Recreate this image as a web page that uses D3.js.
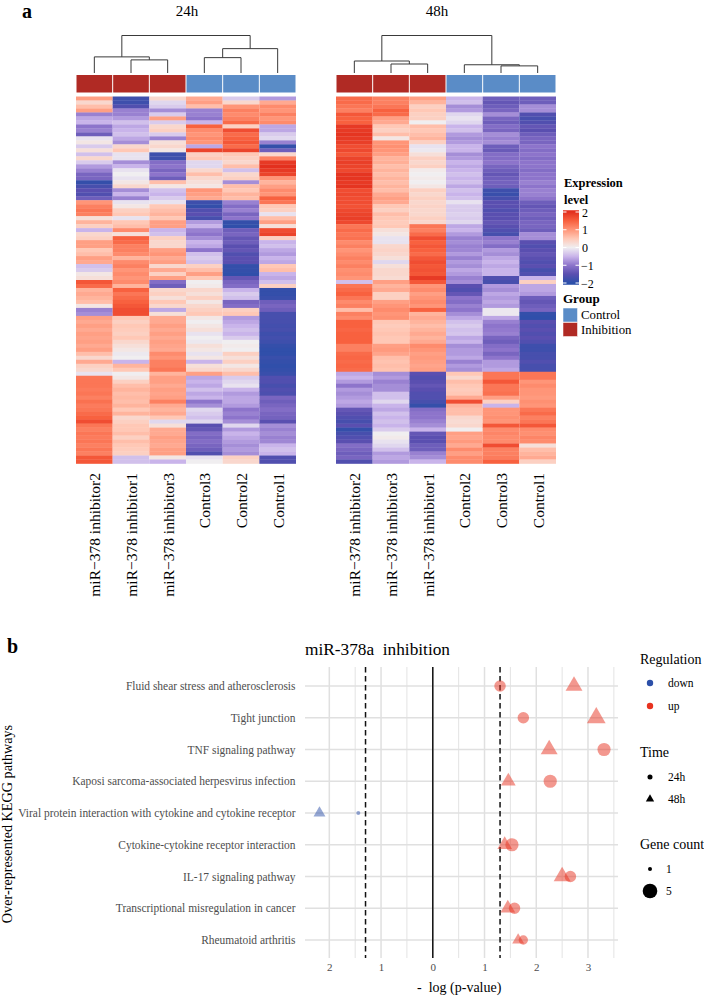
<!DOCTYPE html>
<html>
<head>
<meta charset="utf-8">
<script src="https://cdn.jsdelivr.net/npm/d3@7"></script>
<style>
body { margin: 0; background: #fff; }
text { font-family: "Liberation Serif", serif; }
</style>
</head>
<body>
<div id="chart"></div>
<script>
// heatmap columns, top row to bottom row, z-scores
const samples24 = ['miR\u2212378 inhibitor2', 'miR\u2212378 inhibitor1', 'miR\u2212378 inhibitor3', 'Control3', 'Control2', 'Control1'];
const samples48 = ['miR\u2212378 inhibitor2', 'miR\u2212378 inhibitor3', 'miR\u2212378 inhibitor1', 'Control2', 'Control3', 'Control1'];
const sampleGroups = ['Inhibition', 'Inhibition', 'Inhibition', 'Control', 'Control', 'Control'];

const h24inh2 = [
  .9,.3,.6,.9,-.9,-.6,-.5,-1,-.9,-1.3,
  -.1,.1,-.3,.2,-.4,.3,-.3,-.7,-.9,-1.2,
  -1.2,-1.9,-1.7,-1.5,-1.6,-1.3,1,1.2,1.3,1.2,
  .2,.7,.4,-.5,.3,.4,.9,.9,.5,.6,
  .9,.8,-.4,-.3,.1,.2,1.6,1.4,.7,.8,
  .7,.6,.1,-.9,-.8,.9,.8,.9,.8,.9,
  .85,.9,.8,.9,.6,.3,.8,.4,.3,-.1,
  1.3,1.3,1.3,1.25,1.3,1.2,1.35,1.25,1.3,1.4,
  1.5,1.7,1.3,1.2,1.3,1.25,1.3,1.2,1.3,1.2,1.6,1.6];
const h24inh1 = [
  -1.8,-1.8,-1.6,-.9,-.9,-.7,-.4,-.6,-.5,-.4,
  -.6,-.8,.3,.5,-.1,-.1,-.8,-.5,-.1,0,
  -.1,.1,.3,-.8,-.5,-.9,-.1,.1,.4,.5,
  -.1,.5,.6,1.1,.2,1.5,1.4,1.2,1.2,1.1,
  .7,1.1,1.2,1,1.1,1,1.1,.7,1.5,1.3,
  1.4,1.5,1.6,1.7,1.7,.5,.4,.5,.45,.4,
  .5,.3,.2,.1,-.05,0,-.5,.7,.5,0,
  .1,.4,.6,.7,.6,.65,.6,.7,.5,.7,
  .3,.4,.5,.5,.6,.4,.6,.5,.45,.4,-.4,-.4];
const h24inh3 = [
  .3,-.2,-.3,-.8,-.3,.9,-.3,.3,.4,-.3,
  -.9,.2,.3,.1,-1.8,-1.8,-1.1,-1,-1.2,-1,
  -1.3,.6,.1,-.4,-.5,-.3,-.1,.5,.6,.7,
  .5,.9,.9,-.5,-.4,.4,.3,.3,.9,1,
  .8,.9,.3,.8,.4,.9,-1.1,-1.3,.3,.4,
  .2,.5,.3,-.6,.2,.8,.8,.9,.8,.9,
  .8,.9,.85,.8,1.1,1,1.2,1.2,1.3,.7,
  .9,.9,.8,.9,.85,.9,1.2,.8,.7,.8,
  .5,-.2,.2,.8,.8,.9,.85,.8,.9,.9,.1,-.5];
const h24ctl3 = [
  .8,.9,.6,-.9,-.9,-1,-.5,1.5,1.1,1,
  1.1,1,-.6,1.8,.4,.5,-.2,-.2,.3,.6,
  .3,.2,.1,1,.9,.8,-1.8,-1.9,-1.6,-1.5,
  -1.7,-.7,-.5,-.9,-1,-.8,-.5,-.6,-1,-.4,
  -.3,-.4,.4,.6,.9,.5,0,.05,.3,.2,
  .4,.1,.3,.4,.5,.1,0,.1,.2,-.1,
  0,-.05,.2,.1,-.1,.1,-.5,.2,.3,.9,
  -.6,-.5,-.6,-.4,-.6,-.5,-1,-.8,-.2,-.3,
  -.4,-.2,-1.5,-1.4,-1.1,-1.2,-1.1,-1.2,-1.3,-1.6,-.1,0];
const h24ctl2 = [
  -.3,.3,1,1.2,1.1,1.2,1.4,.4,1.7,1.4,
  1.5,1.6,1.4,1.8,.5,.4,.3,.6,-.4,.3,
  .4,-.8,.6,.5,.7,.6,-.9,-1.1,-.9,-1.2,
  -1,-1.9,-1.95,-1.3,-1.2,-1.4,-1.3,-1.5,-1.4,-1.6,
  -1.5,-1.5,-1.9,-1.9,-1.95,-1.4,-1.2,-1.1,-.5,-.3,
  -.4,-1.2,-1.1,.4,.5,-.7,-.6,-.5,-.4,-.5,
  -.3,0,.05,0,.4,.2,.4,.1,.3,.6,
  -.3,-.2,-.1,-.5,-.7,-.6,-.6,-.7,-1,-.9,
  -1,-.8,-.2,-.7,-.5,-.6,-.7,-.8,-.7,-.8,.4,.3];
const h24ctl1 = [
  -.7,.8,1.1,1,1.2,1,1.1,-.6,-.6,-.3,
  -.2,-.9,-1.9,-1.3,.3,1.2,1.9,2,1.9,1.8,
  1,.7,.9,1.1,1,1.5,1.3,.5,.4,-.1,
  .6,.9,.2,1.7,1.8,.4,-.5,-.4,-.6,-.7,
  -.5,-.6,.5,.6,-.5,-.6,-.4,.4,-1.9,-1.9,
  -1.85,-1.3,-1.2,-1.3,-1.7,-1.7,-1.7,-1.75,-1.7,-1.8,
  -1.75,-1.8,-1.9,-1.95,-1.95,-1.85,-1.9,-1.95,-1.9,-1.85,
  -1.6,-1.6,-1.7,-1.6,-1.65,-1.2,-1.3,-1.2,-1.1,-1.2,
  -1.25,-1.5,-.8,-.9,-.8,-.9,-.85,-.5,-.4,-.5,-1.6,-1.6];

const h48inh2 = [
  1.4,1.4,1.3,1.2,1.6,1.5,1.5,1.9,1.9,1.95,
  1.9,1.85,1.7,1.75,1.6,1.8,1.85,1.8,1.75,1.95,
  1.95,1.9,1.95,1.7,1.75,1.7,1.7,1.65,1.75,1.8,
  1.85,1.75,1.3,1.4,1.3,1.35,1.1,1.2,1,1.1,
  1.2,1.1,1.2,1.05,1.1,1,-.4,1.3,1.4,1.5,
  1.3,1.1,1.2,.6,1.2,1.1,1.5,1.5,1.45,1.5,
  1.5,1.5,1.2,1.2,1.4,1.45,1.4,1.45,1.4,-.6,
  -.5,-.7,-1,-.7,-.8,-.7,-.6,-.7,-1.4,-1.5,
  -1.6,-1.7,-1.5,-1.9,-1.7,-1.6,-1.5,-1.1,-1.2,-1.3,-1.2,-1.6];
const h48inh3 = [
  1.2,1.2,1.3,1.5,1.4,.9,.8,.5,.4,.6,
  .1,1,1.05,1,.9,.7,.75,.6,.7,.6,
  .7,.6,.7,.6,.8,.9,.8,.5,.4,.6,
  .5,.45,.5,.2,.1,-.1,-.1,.3,.35,.3,
  .2,-.2,.2,.3,.3,.25,.9,.7,.8,.4,
  .4,.9,1,1.1,1,1.05,.5,.45,.5,.55,
  .5,.5,.9,.95,.85,.6,.55,.6,.55,-.8,
  -.7,-.9,-.8,-.8,-.4,-.4,-.2,-.5,-.6,-.4,
  -.5,-.4,-.5,-.3,0,.05,-.1,-.2,-.4,-.7,-.6,-.7];
const h48inh1 = [
  .9,.7,.4,.5,.4,.4,0,.6,.5,.6,
  .7,.4,-.1,-.05,.2,.4,.3,.4,.05,0,
  .05,0,.1,.4,.3,.4,.3,.35,.3,.3,
  .4,.3,1.3,1.2,1.4,1.7,1.5,1.6,1.5,1.4,
  1.6,1.7,1.6,1.65,1.6,1.9,1.6,1,1.1,.9,
  1,1.1,1,1.5,.7,.8,.7,.6,.7,.8,
  .7,.8,1.1,1,.9,.95,.9,.85,.9,-1.5,
  -1.6,-1.5,-1.4,-1.5,-1.6,-1.6,-1.7,-1.9,-1.1,-1,
  -1,-.9,-.8,-.5,-1.4,-1.5,-1.5,-1.3,-1.3,-.9,-.8,-.5];
const h48ctl2 = [
  -.5,-.4,-.8,-.7,-.2,-.1,-.2,-.5,-.4,-.7,
  -.8,-.7,-.5,-.5,-.8,-.7,-.5,-.6,-.5,-.4,
  -.5,-.4,-.6,-.4,-.5,-.4,-.1,-.3,-.3,-.25,
  -.3,-.2,-.6,-.5,-.7,-.9,-.8,-.9,-.85,-.7,
  -.9,-.7,-.8,-.6,-.7,-.9,-.8,-1.5,-1.6,-1.4,
  -1,-1.1,-.9,-1,-.8,-.6,-.4,-.3,-.4,-.35,
  -.6,-.5,-.8,-.7,-.7,-.6,-.9,-.7,-.8,.5,
  .3,.6,.5,.45,.5,.8,1.7,.7,.6,.6,
  .3,.25,.3,0,.9,.85,.95,.8,1.1,.9,1.1,1.1];
const h48ctl3 = [
  -1.3,-1.4,-1.3,-1.2,-.8,-1.2,-1.3,-1.1,-1.2,-.8,
  -.9,-.8,-1.3,-1.35,-1.1,-1.1,-1,-1.2,-1.3,-1.4,
  -1.3,-1.25,-1.3,-1.8,-1.85,-1.7,-1.5,-1.5,-1.6,-1.5,
  -1.5,-1.4,-1.5,-1.6,-1.7,-1,-.9,-1.1,-.7,-.8,
  -.6,-.5,-.6,-.5,-.5,-1.6,-1.7,-.7,-.8,-.6,
  -.7,-.6,-.7,-.05,-.05,-.6,-.9,-1,-.95,-.9,
  -1.2,-1.3,-1.1,-1,-1.2,-1,-.7,-.7,-.6,1.3,
  1.3,1.6,1.3,1.3,1.35,.9,.4,-.5,1,1,
  1.05,1,1.6,1.1,1.15,1.1,1.1,1.7,1.2,1.2,1.25,1.5];
const h48ctl1 = [
  -1.3,-1.3,-.8,-.8,-1.6,-1.7,-1.6,-1.4,-1.5,-1.3,
  -1.2,-1.2,-1,-1.1,-1,-1.1,-1,-1,-1.1,-1,
  -1,-.9,-1,-.9,-.9,-1,-1.3,-1.4,-1.3,-1.2,
  -1.3,-1.2,-1.2,-1.3,-.8,-.8,-1.5,-1.6,-1.5,-1.4,
  -1.5,-1.6,-1.5,-1.7,-1.6,-.5,.4,-.6,-.6,-.7,
  -1.3,-1.4,-1.3,-1.2,-1.9,-1.95,-1.5,-1.6,-1.5,-1.6,
  -1.5,-1.6,-1.8,-1.8,-1.7,-1.7,-1.6,-1.7,-1.7,1.3,
  1.3,1,1.1,1,1,.95,1.05,1,1.3,1.4,
  1.2,1.3,1.6,1.1,1.05,1.15,1.1,.2,.6,.7,.8,.4];

// dendrograms, h = merge height relative to the root
const tree24 = {h: 1, children: [
  {h: .43, children: [{leaf: 0}, {h: .35, children: [{leaf: 1}, {leaf: 2}]}]},
  {h: .65, children: [{h: .41, children: [{leaf: 3}, {leaf: 4}]}, {leaf: 5}]}
]};
const tree48 = {h: 1, children: [
  {h: .32, children: [{leaf: 0}, {h: .24, children: [{leaf: 1}, {leaf: 2}]}]},
  {h: .22, children: [{leaf: 3}, {h: .19, children: [{leaf: 4}, {leaf: 5}]}]}
]};

// KEGG dot plot
const pathways = [
  'Fluid shear stress and atherosclerosis',
  'Tight junction',
  'TNF signaling pathway',
  'Kaposi sarcoma-associated herpesvirus infection',
  'Viral protein interaction with cytokine and cytokine receptor',
  'Cytokine-cytokine receptor interaction',
  'IL-17 signaling pathway',
  'Transcriptional misregulation in cancer',
  'Rheumatoid arthritis'
];
// signed -log10(p), negative = down
const logp24 = [1.3, 1.75, 3.31, 2.27, -1.44, 1.53, 2.66, 1.58, 1.75];
const logp48 = [2.73, 3.16, 2.25, 1.46, -2.19, 1.39, 2.5, 1.45, 1.65];
const count24 = [3, 3, 4, 4, 1, 4, 3, 3, 2];
const count48 = [4, 5, 4, 3, 2, 3, 4, 3, 2];
const xTicks = [-2, -1, 0, 1, 2, 3];
const xGrid = [-1.5, -.5, .5, 1.5, 2.5, 3.5];
const cutoff = 1.3;

const red = '#e8321f', blue = '#2c4fa8', inhibColor = '#b02a24', controlColor = '#5a8cc7';
const grey = '#4d4d4d';

const svg = d3.select('#chart').append('svg')
    .attr('width', 704)
    .attr('height', 996)
    .style('display', 'block');

const color = d3.scaleLinear()
    .domain([-2, -1.5, -1, -.5, 0, .5, 1, 1.5, 2])
    .range(['#2b4fa9', '#5a4fb0', '#8d74cb', '#c9b4ea', '#f0eef0', '#ffc8b6', '#ff9578', '#f8613f', '#e3301e'])
    .clamp(true);

function drawHeatmap(x0, title, titleX, samples, columns, tree) {
    const x = d3.scaleBand().domain(d3.range(6)).range([x0, x0 + 220]);
    const y = d3.scaleBand().domain(d3.range(columns[0].length)).range([96.5, 463.5]);
    const g = svg.append('g');

    g.append('text').attr('x', titleX).attr('y', 16)
        .attr('text-anchor', 'middle').attr('font-size', 15).text(title);

    // dendrogram
    const h = d3.scaleLinear().domain([0, 1]).range([73, 35.5]);
    const root = d3.hierarchy(tree);
    root.eachAfter(n => {
        n.px = n.data.leaf !== undefined ? x(n.data.leaf) + x.bandwidth() / 2 : d3.mean(n.children, c => c.px);
        n.py = n.data.leaf !== undefined ? h(0) : h(n.data.h);
    });
    const link = d3.line();
    root.each(n => {
        if (!n.children) return;
        const [a, b] = n.children;
        g.append('path')
            .attr('d', link([[a.px, a.py], [a.px, n.py], [b.px, n.py], [b.px, b.py]]))
            .attr('fill', 'none').attr('stroke', '#3a3a3a').attr('stroke-width', 1);
    });

    // annotation bar
    g.selectAll('.anno').data(sampleGroups).join('rect')
        .attr('x', (d, i) => x(i) + .5).attr('y', 75)
        .attr('width', x.bandwidth() - 1).attr('height', 17.5)
        .attr('fill', d => d === 'Control' ? controlColor : inhibColor);

    // cells
    columns.forEach((col, i) => {
        g.append('g').selectAll('rect').data(col).join('rect')
            .attr('x', x(i))
            .attr('y', (d, r) => y(r))
            .attr('width', x.bandwidth())
            .attr('height', y.bandwidth() + .3)
            .attr('fill', d => color(d));
    });

    // sample names
    g.selectAll('.sample').data(samples).join('text')
        .attr('transform', (d, i) => 'translate(' + (x(i) + x.bandwidth() / 2 + 6) + ',473) rotate(-90)')
        .attr('text-anchor', 'end').attr('font-size', 15.5).text(d => d);
}

drawHeatmap(76, '24h', 187, samples24, [h24inh2, h24inh1, h24inh3, h24ctl3, h24ctl2, h24ctl1], tree24);
drawHeatmap(336, '48h', 437, samples48, [h48inh2, h48inh3, h48inh1, h48ctl2, h48ctl3, h48ctl1], tree48);

svg.append('text').attr('x', 22).attr('y', 17.5).attr('font-size', 20).attr('font-weight', 'bold').text('a');
svg.append('text').attr('x', 7).attr('y', 652.5).attr('font-size', 20).attr('font-weight', 'bold').text('b');

// heatmap legend
svg.append('text').attr('x', 564).attr('y', 187).attr('font-size', 12.5).attr('font-weight', 'bold').text('Expression');
svg.append('text').attr('x', 564).attr('y', 203.5).attr('font-size', 12.5).attr('font-weight', 'bold').text('level');

const barY = d3.scaleLinear().domain([2, -2]).range([212, 283]);
const grad = svg.append('defs').append('linearGradient')
    .attr('id', 'bar').attr('x1', 0).attr('x2', 0).attr('y1', 0).attr('y2', 1);
d3.range(2.1, -2.11, -.1).forEach((v, i, all) => {
    grad.append('stop').attr('offset', i / (all.length - 1)).attr('stop-color', color(v));
});
svg.append('rect').attr('x', 563).attr('y', barY(2.1)).attr('width', 16)
    .attr('height', barY(-2.1) - barY(2.1)).attr('fill', 'url(#bar)');
[2, 1, 0, -1, -2].forEach(v => {
    svg.append('line').attr('x1', 563).attr('x2', 566.5).attr('y1', barY(v)).attr('y2', barY(v)).attr('stroke', '#fff');
    svg.append('line').attr('x1', 575.5).attr('x2', 579).attr('y1', barY(v)).attr('y2', barY(v)).attr('stroke', '#fff');
    svg.append('text').attr('x', v < 0 ? 581 : 582).attr('y', barY(v) + 4.5).attr('font-size', 12)
        .text(v < 0 ? '\u2212' + (-v) : v);
});

svg.append('text').attr('x', 563).attr('y', 303).attr('font-size', 13).attr('font-weight', 'bold').text('Group');
[['Control', controlColor, 308], ['Inhibition', inhibColor, 322.5]].forEach(d => {
    svg.append('rect').attr('x', 563).attr('y', d[2]).attr('width', 14.5).attr('height', 14).attr('fill', d[1]).attr('stroke', '#fff').attr('stroke-width', .5);
    svg.append('text').attr('x', 581).attr('y', d[2] + 11).attr('font-size', 12.8).text(d[0]);
});

// dot plot
const px = d3.scaleLinear().domain([-2.47, 3.58]).range([305, 618]);
const py = d3.scalePoint().domain(pathways).range([686, 940]);
const pTop = 667, pBottom = 958;

const plot = svg.append('g');
plot.selectAll('.minor').data(xGrid).join('line')
    .attr('x1', d => px(d)).attr('x2', d => px(d)).attr('y1', pTop).attr('y2', pBottom)
    .attr('stroke', '#e3e3e3').attr('stroke-width', 1);
plot.selectAll('.major').data(xTicks).join('line')
    .attr('x1', d => px(d)).attr('x2', d => px(d)).attr('y1', pTop).attr('y2', pBottom)
    .attr('stroke', '#e0e0e0').attr('stroke-width', 1.5);
plot.selectAll('.hgrid').data(pathways).join('line')
    .attr('x1', 305).attr('x2', 618).attr('y1', d => py(d)).attr('y2', d => py(d))
    .attr('stroke', '#e0e0e0').attr('stroke-width', 1.5);

plot.append('line').attr('x1', px(0)).attr('x2', px(0)).attr('y1', pTop).attr('y2', pBottom)
    .attr('stroke', '#111').attr('stroke-width', 1.5);
[-cutoff, cutoff].forEach(v => {
    plot.append('line').attr('x1', px(v)).attr('x2', px(v)).attr('y1', pTop).attr('y2', pBottom)
        .attr('stroke', '#111').attr('stroke-width', 1.5).attr('stroke-dasharray', '5.5 3.5');
});

// ggplot style area scale for gene count
const radius = d3.scaleSqrt().domain([0, 4]).range([0, 1]);
const r = c => 2 + 5.3 * radius(c - 1);
const circle = d3.symbol().type(d3.symbolCircle);
const tri = d3.symbol().type(d3.symbolTriangle);
const circleD = c => circle.size(Math.PI * r(c) * r(c))();
const triD = c => tri.size(2.84 * r(c) * r(c))();

plot.selectAll('.p24').data(pathways).join('path')
    .attr('transform', (d, i) => 'translate(' + px(logp24[i]) + ',' + py(d) + ')')
    .attr('d', (d, i) => circleD(count24[i]))
    .attr('fill', (d, i) => logp24[i] < 0 ? blue : red).attr('fill-opacity', .5);
plot.selectAll('.p48').data(pathways).join('path')
    .attr('transform', (d, i) => 'translate(' + px(logp48[i]) + ',' + py(d) + ')')
    .attr('d', (d, i) => triD(count48[i]))
    .attr('fill', (d, i) => logp48[i] < 0 ? blue : red).attr('fill-opacity', .5);

const xAxis = svg.append('g').attr('transform', 'translate(0,' + (pBottom + 2.5) + ')')
    .call(d3.axisBottom(px).tickValues(xTicks).tickSize(0).tickFormat(d => Math.abs(d)));
xAxis.select('.domain').remove();
xAxis.selectAll('text').attr('font-family', 'Liberation Serif').attr('font-size', 11).attr('fill', grey);

const yAxis = svg.append('g').attr('transform', 'translate(298.5,0)')
    .call(d3.axisLeft(py).tickSize(0));
yAxis.select('.domain').remove();
yAxis.selectAll('text').attr('font-family', 'Liberation Serif').attr('font-size', 11.45).attr('fill', grey);

svg.append('text').attr('x', 305).attr('y', 655).attr('font-size', 17.3).text('miR-378a\u00a0\u00a0inhibition');
svg.append('text').attr('x', 417).attr('y', 992).attr('font-size', 14).text('-\u00a0\u00a0log (p-value)');
svg.append('text').attr('transform', 'translate(11.5,824) rotate(-90)').attr('text-anchor', 'middle')
    .attr('font-size', 14.2).text('Over-represented KEGG pathways');

// dot plot legends
const headX = 640, markX = 650, labelX = 668;
svg.append('text').attr('x', headX).attr('y', 664).attr('font-size', 14).text('Regulation');
[['down', blue, 683], ['up', red, 706]].forEach(d => {
    svg.append('circle').attr('cx', markX).attr('cy', d[2]).attr('r', 3.2).attr('fill', d[1]);
    svg.append('text').attr('x', labelX).attr('y', d[2] + 4).attr('font-size', 11.5).text(d[0]);
});
svg.append('text').attr('x', headX).attr('y', 757).attr('font-size', 14).text('Time');
[['24h', d3.symbolCircle, 777], ['48h', d3.symbolTriangle, 799]].forEach(d => {
    svg.append('path').attr('transform', 'translate(' + markX + ',' + d[2] + ')')
        .attr('d', d3.symbol().type(d[1]).size(d[1] === d3.symbolCircle ? 20 : 30)());
    svg.append('text').attr('x', labelX).attr('y', d[2] + 4).attr('font-size', 11.5).text(d[0]);
});
svg.append('text').attr('x', headX).attr('y', 849).attr('font-size', 14).text('Gene count');
[[1, 869], [5, 891]].forEach(d => {
    svg.append('path').attr('transform', 'translate(' + markX + ',' + d[1] + ')').attr('d', circleD(d[0]));
    svg.append('text').attr('x', labelX - 2).attr('y', d[1] + 4).attr('font-size', 11.5).text(d[0]);
});
</script>
</body>
</html>
